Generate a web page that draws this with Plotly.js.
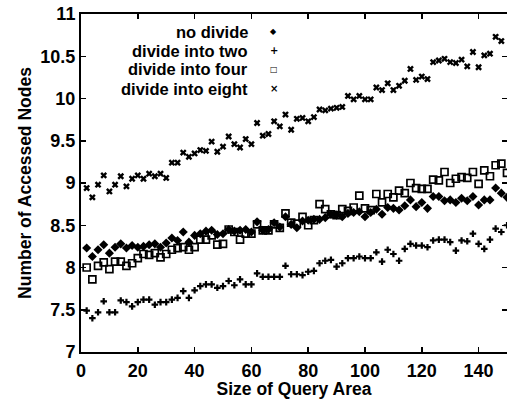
<!DOCTYPE html>
<html>
<head>
<meta charset="utf-8">
<script src="https://cdn.plot.ly/plotly-3.0.1.min.js"></script>
<style>html,body{margin:0;padding:0;background:#fff;}#chart{width:507px;height:399px;}</style>
</head>
<body>
<div id="chart"></div>
<script>
const querySize = [2,4,6,8,10,12,14,16,18,20,22,24,26,28,30,32,34,36,38,40,42,44,46,48,50,52,54,56,58,60,62,64,66,68,70,72,74,76,78,80,82,84,86,88,90,92,94,96,98,100,102,104,106,108,110,112,114,116,118,120,122,124,126,128,130,132,134,136,138,140,142,144,146,148,150];

const noDivide = [8.23,8.13,8.21,8.27,8.17,8.24,8.28,8.23,8.26,8.24,8.25,8.27,8.28,8.24,8.29,8.35,8.32,8.42,8.30,8.38,8.40,8.43,8.44,8.39,8.40,8.45,8.43,8.44,8.45,8.42,8.54,8.44,8.45,8.53,8.48,8.60,8.51,8.47,8.55,8.56,8.57,8.57,8.59,8.63,8.62,8.60,8.64,8.65,8.66,8.60,8.65,8.69,8.63,8.71,8.70,8.68,8.73,8.80,8.72,8.77,8.70,8.84,8.84,8.79,8.80,8.77,8.82,8.79,8.84,8.74,8.80,8.80,8.94,8.88,8.83];

const divideTwo = [7.49,7.40,7.47,7.60,7.47,7.47,7.61,7.59,7.54,7.59,7.62,7.62,7.56,7.59,7.59,7.62,7.64,7.72,7.64,7.73,7.78,7.80,7.80,7.76,7.78,7.84,7.79,7.86,7.80,7.80,7.93,7.89,7.89,7.89,7.89,8.02,7.92,7.92,7.91,7.95,7.96,8.05,8.08,8.09,8.01,8.05,8.11,8.11,8.13,8.11,8.11,8.18,8.07,8.21,8.16,8.08,8.22,8.28,8.26,8.26,8.24,8.32,8.33,8.33,8.30,8.20,8.32,8.31,8.40,8.28,8.22,8.33,8.46,8.42,8.50];

const divideFour = [8.00,7.86,8.02,8.06,7.98,8.07,8.07,8.02,8.05,8.11,8.16,8.15,8.17,8.12,8.16,8.21,8.23,8.24,8.21,8.24,8.33,8.33,8.38,8.27,8.28,8.45,8.42,8.33,8.40,8.40,8.51,8.44,8.44,8.51,8.47,8.64,8.53,8.52,8.60,8.50,8.56,8.75,8.69,8.63,8.62,8.69,8.67,8.71,8.85,8.70,8.68,8.87,8.77,8.87,8.83,8.91,8.88,9.00,8.94,8.93,8.93,9.04,9.03,9.13,9.00,9.05,9.07,9.06,9.13,8.99,9.15,9.08,9.21,9.23,9.12];

const divideEight = [8.94,8.83,8.98,9.09,8.90,8.98,9.08,8.96,9.05,9.09,9.05,9.11,9.08,9.11,9.06,9.24,9.24,9.36,9.31,9.35,9.39,9.38,9.49,9.37,9.43,9.55,9.46,9.42,9.52,9.46,9.71,9.56,9.58,9.73,9.67,9.81,9.63,9.76,9.77,9.73,9.78,9.87,9.86,9.88,9.89,9.90,10.03,9.99,10.03,9.99,9.99,10.13,10.10,10.18,10.10,10.15,10.21,10.35,10.22,10.26,10.23,10.43,10.45,10.47,10.43,10.42,10.46,10.38,10.55,10.37,10.51,10.53,10.73,10.68,null];

const seriesNames = ["no divide", "divide into two", "divide into four", "divide into eight"];
const legendKeys = ["\u25C6", "+", "\u25A1", "\u00D7"];
const xTicks = [0,20,40,60,80,100,120,140];
const yTicks = [7,7.5,8,8.5,9,9.5,10,10.5,11];

const FONT = "'Liberation Sans', Arial, Helvetica, sans-serif";

const traces = [
  {x: querySize, y: noDivide, name: seriesNames[0], type: "scatter", mode: "markers",
   marker: {symbol: "diamond", size: 7, color: "#000"}},
  {x: querySize, y: divideTwo, name: seriesNames[1], type: "scatter", mode: "markers",
   marker: {symbol: "cross", size: 5.5, color: "#000"}},
  {x: querySize, y: divideFour, name: seriesNames[2], type: "scatter", mode: "markers",
   marker: {symbol: "square-open", size: 7, color: "#000", line: {width: 1.7, color: "#000"}}},
  {x: querySize, y: divideEight, name: seriesNames[3], type: "scatter", mode: "markers",
   marker: {symbol: "x", size: 6, color: "#000"}}
];

const legendRowsY = [0.947, 0.892, 0.836, 0.779];
const annotations = [];
seriesNames.forEach((n, i) => {
  annotations.push({xref: "paper", yref: "paper", x: 0.397, y: legendRowsY[i], xanchor: "right", yanchor: "middle",
    text: n, showarrow: false, font: {family: FONT, size: 16.5, weight: "bold", color: "#000"}});
  annotations.push({xref: "paper", yref: "paper", x: 0.453, y: legendRowsY[i], xanchor: "center", yanchor: "middle",
    text: legendKeys[i], showarrow: false, font: {family: "DejaVu Sans", size: (i === 0 || i === 2) ? 8 : 10, weight: "bold", color: "#000"}});
});

const axisCommon = {
  ticks: "inside", ticklen: 5, tickwidth: 1.5, tickcolor: "#000",
  showline: true, linewidth: 2, linecolor: "#000", mirror: "allticks",
  showgrid: false, zeroline: false,
  tickfont: {family: FONT, size: 18, weight: "bold", color: "#000"}
};

const layout = {
  width: 507, height: 399,
  margin: {l: 81, r: 0, t: 14, b: 47},
  paper_bgcolor: "#fff", plot_bgcolor: "#fff",
  showlegend: false,
  font: {family: FONT, color: "#000"},
  xaxis: Object.assign({}, axisCommon, {
    range: [0, 150], tickmode: "array", tickvals: xTicks, ticktext: xTicks.map(String),
    ticklabelstandoff: 1,
    title: {text: "Size of Query Area", font: {family: FONT, size: 17.5, weight: "bold", color: "#000"}, standoff: 7}
  }),
  yaxis: Object.assign({}, axisCommon, {
    range: [7, 11], tickmode: "array", tickvals: yTicks, ticktext: yTicks.map(String),
    title: {text: "Number of Accessed Nodes", font: {family: FONT, size: 17.5, weight: "bold", color: "#000"}, standoff: 4}
  }),
  annotations: annotations
};

Plotly.newPlot("chart", traces, layout, {displayModeBar: false, staticPlot: true});
</script>
</body>
</html>
